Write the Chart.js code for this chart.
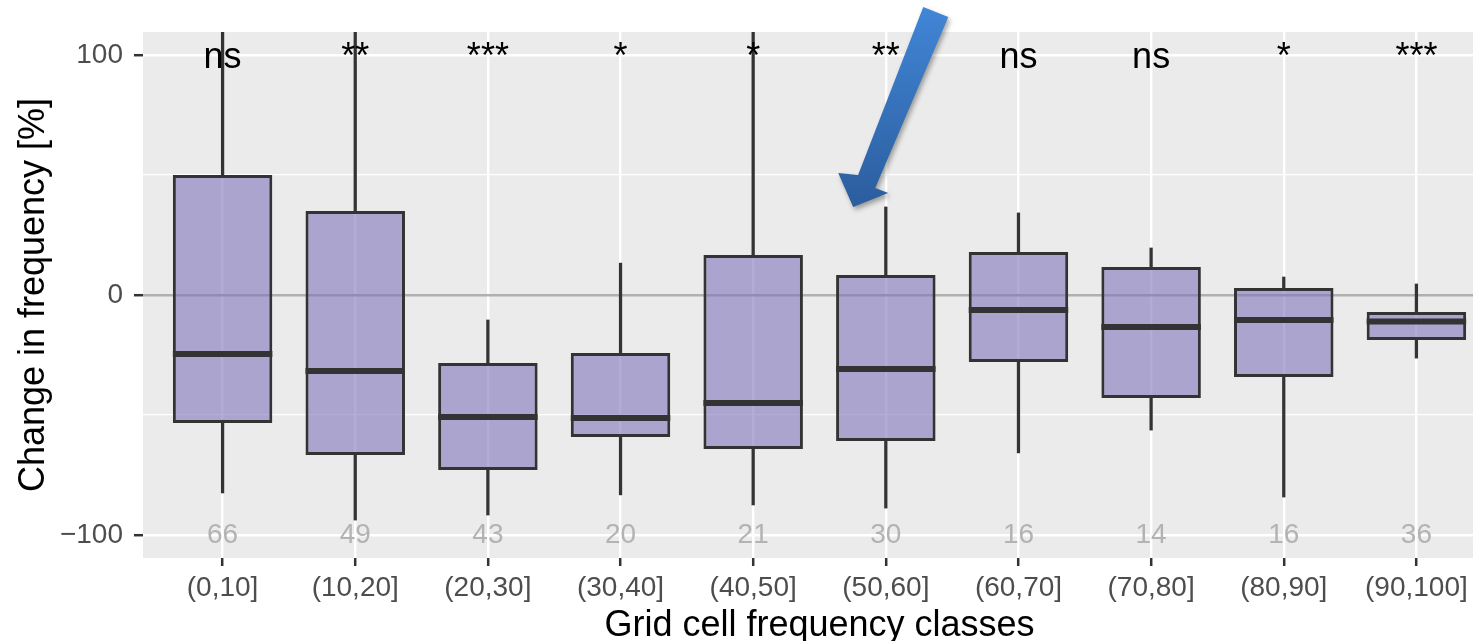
<!DOCTYPE html>
<html>
<head>
<meta charset="utf-8">
<script src="https://cdn.jsdelivr.net/npm/chart.js@4.4.0/dist/chart.umd.min.js"></script>
<style>
  html, body { margin: 0; padding: 0; background: #fff; overflow: hidden; }
  canvas { display: block; }
</style>
</head>
<body>
<canvas id="myChart" width="1510" height="641"></canvas>
<script>
// boxplot stats per grid cell frequency class
const classes = ['(0,10]', '(10,20]', '(20,30]', '(30,40]', '(40,50]', '(50,60]', '(60,70]', '(70,80]', '(80,90]', '(90,100]'];
const whiskerLow = [-82.5, -93.8, -91.7, -83.3, -87.5, -88.8, -65.8, -56.3, -84.2, -26.3];
const q1 = [-53.3, -66.7, -72.9, -59.2, -64.2, -60.8, -27.9, -42.9, -34.2, -18.8];
const median = [-24.6, -31.7, -50.8, -51.3, -45.0, -30.8, -6.3, -13.3, -10.4, -11.0];
const q3 = [50.0, 35.0, -28.3, -24.2, 16.7, 8.3, 17.9, 11.7, 2.9, -7.1];
const whiskerHigh = [130, 130, -10.4, 13.3, 130, 36.7, 34.2, 19.6, 7.5, 4.6];
const counts = [66, 49, 43, 20, 21, 30, 16, 14, 16, 36];
const signif = ['ns', '**', '***', '*', '*', '**', 'ns', 'ns', '*', '***'];
const yTicks = [-100, -50, 0, 50, 100];

// blue arrow drawn on top of the figure, in data units (class index, %)
const arrowPts = [[5.282, 120], [5.471, 115.8], [4.920, 44.6], [5.018, 42.5], [4.754, 36.7], [4.641, 50.8], [4.791, 50]];

const fontFamily = '"Liberation Sans", Arial, Helvetica, sans-serif';
Chart.defaults.font.family = fontFamily;

const boxLine = '#333333';
const boxFill = 'rgba(128, 117, 188, 0.6)';

const boxExtras = {
  id: 'boxExtras',
  afterDatasetsDraw(chart) {
    const { ctx, chartArea, scales: { x, y } } = chart;
    const meta = chart.getDatasetMeta(2);
    ctx.save();
    ctx.beginPath();
    ctx.rect(chartArea.left, chartArea.top, chartArea.width, chartArea.height);
    ctx.clip();

    // median bars
    ctx.strokeStyle = boxLine;
    ctx.lineWidth = 6;
    meta.data.forEach((bar, i) => {
      const py = y.getPixelForValue(median[i]);
      ctx.beginPath();
      ctx.moveTo(bar.x - bar.width / 2, py);
      ctx.lineTo(bar.x + bar.width / 2, py);
      ctx.stroke();
    });

    // sample sizes
    ctx.font = '28px ' + fontFamily;
    ctx.fillStyle = '#b3b3b3';
    ctx.textAlign = 'center';
    ctx.textBaseline = 'middle';
    counts.forEach((n, i) => {
      ctx.fillText(String(n), x.getPixelForValue(i), y.getPixelForValue(-100));
    });

    // significance labels
    ctx.font = '36px ' + fontFamily;
    ctx.fillStyle = '#000';
    ctx.textBaseline = 'alphabetic';
    signif.forEach((s, i) => {
      ctx.fillText(s, x.getPixelForValue(i), y.getPixelForValue(94.5));
    });
    ctx.restore();
  },
  afterDraw(chart) {
    const { ctx, scales: { x, y } } = chart;
    const pts = arrowPts.map(p => [x.getPixelForValue(p[0]), y.getPixelForValue(p[1])]);
    const grad = ctx.createLinearGradient(0, pts[0][1], 0, pts[4][1]);
    grad.addColorStop(0, '#4186d6');
    grad.addColorStop(1, '#2b5d9e');
    ctx.save();
    ctx.shadowColor = 'rgba(0,0,0,0.35)';
    ctx.shadowBlur = 5;
    ctx.shadowOffsetX = 2;
    ctx.shadowOffsetY = 3;
    ctx.beginPath();
    pts.forEach((p, i) => (i ? ctx.lineTo(p[0], p[1]) : ctx.moveTo(p[0], p[1])));
    ctx.closePath();
    ctx.fillStyle = grad;
    ctx.fill();
    ctx.restore();
  }
};

const ctx = document.getElementById('myChart').getContext('2d');
const chart = new Chart(ctx, {
  type: 'bar',
  data: {
    datasets: [{
      label: 'lower whisker',
      data: classes.map((c, i) => ({ x: i, y: [whiskerLow[i], q1[i]] })),
      backgroundColor: boxLine,
      barThickness: 2.6,
      grouped: false,
      order: 3
    }, {
      label: 'upper whisker',
      data: classes.map((c, i) => ({ x: i, y: [q3[i], whiskerHigh[i]] })),
      backgroundColor: boxLine,
      barThickness: 2.6,
      grouped: false,
      order: 2
    }, {
      label: 'box',
      data: classes.map((c, i) => ({ x: i, y: [q1[i], q3[i]] })),
      backgroundColor: boxFill,
      borderColor: boxLine,
      borderWidth: 3,
      borderSkipped: false,
      categoryPercentage: 1,
      barPercentage: 0.75,
      grouped: false,
      order: 1
    }]
  },
  options: {
    responsive: false,
    animation: false,
    layout: { padding: { top: 32, right: 14, left: 0, bottom: 0 } },
    plugins: { legend: { display: false }, tooltip: { enabled: false } },
    scales: {
      x: {
        type: 'linear',
        min: -0.6,
        max: 9.6,
        offset: false,
        afterBuildTicks: s => { s.ticks = classes.map((c, i) => ({ value: i })); },
        afterFit: s => { s.height = 83; },
        ticks: {
          callback: v => classes[v],
          autoSkip: false,
          maxRotation: 0,
          color: '#4d4d4d',
          font: { size: 28 },
          padding: 5
        },
        grid: { offset: false, color: '#ffffff', lineWidth: 2.4, tickColor: boxLine, tickLength: 8, tickWidth: 2.5 },
        border: { display: false },
        title: {
          display: true,
          text: 'Grid cell frequency classes',
          color: '#000',
          font: { size: 36, lineHeight: 1 },
          padding: { top: 0, bottom: -3 }
        }
      },
      y: {
        min: -109.6,
        max: 109.6,
        afterBuildTicks: s => { s.ticks = yTicks.map(v => ({ value: v })); },
        afterFit: s => { s.width = 143; },
        ticks: {
          callback: v => (v % 100 === 0 ? (v < 0 ? '\u2212' + Math.abs(v) : String(v)) : ''),
          color: '#4d4d4d',
          font: { size: 28 },
          padding: 11
        },
        grid: {
          color: c => (c.tick && c.tick.value === 0 ? '#b0b0b0' : '#ffffff'),
          lineWidth: c => (c.tick && Math.abs(c.tick.value) === 50 ? 1.2 : 2.4),
          tickColor: c => (c.tick && Math.abs(c.tick.value) === 50 ? 'rgba(0,0,0,0)' : boxLine),
          tickLength: 9,
          tickWidth: 2.5
        },
        border: { display: false },
        title: {
          display: true,
          text: 'Change in frequency [%]',
          color: '#000',
          font: { size: 36, lineHeight: 1 },
          padding: { top: 16, bottom: 0 }
        }
      }
    }
  },
  plugins: [{
    id: 'panelBg',
    beforeDraw(chart) {
      const { ctx, chartArea: a } = chart;
      ctx.save();
      ctx.fillStyle = '#ebebeb';
      ctx.fillRect(a.left, a.top, a.width, a.height);
      ctx.restore();
    }
  }, boxExtras]
});
</script>
</body>
</html>
